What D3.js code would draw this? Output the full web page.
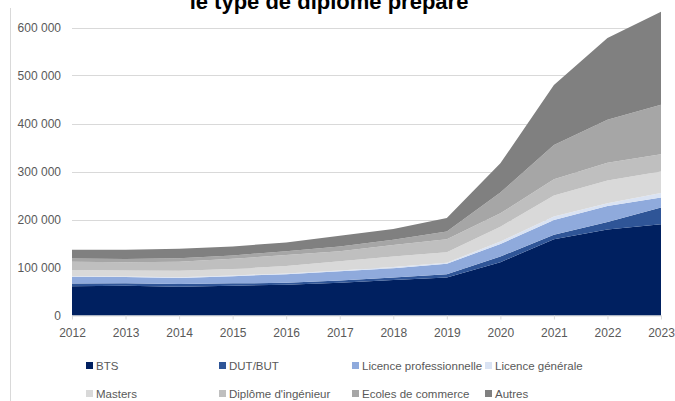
<!DOCTYPE html>
<html>
<head>
<meta charset="utf-8">
<script src="https://cdn.jsdelivr.net/npm/d3@7"></script>
<style>
  body { margin: 0; background: #fff; }
  text { font-family: "Liberation Sans", Arial, sans-serif; }
</style>
</head>
<body>
<script>
var width = 675, height = 401;

// data (effectifs d'apprentis)
var years = [2012, 2013, 2014, 2015, 2016, 2017, 2018, 2019, 2020, 2021, 2022, 2023];
var bts        = [61000, 62000, 60000, 62000, 64000, 68000, 74000, 79000, 111000, 159000, 179000, 190000];
var dut        = [5500, 5000, 5500, 5000, 4000, 5000, 5000, 7000, 12000, 9000, 16000, 35000];
var licPro     = [14000, 13000, 12500, 15000, 18000, 19000, 19500, 22000, 26000, 31000, 33000, 21000];
var licGen     = [1500, 1500, 1500, 1500, 1500, 2000, 2500, 2000, 5000, 7000, 6000, 9000];
var masters    = [13000, 12500, 13500, 13500, 15500, 19000, 22000, 22000, 31000, 44000, 47000, 45000];
var ingenieur  = [17000, 17000, 19000, 21000, 23000, 21000, 24000, 27000, 28000, 34000, 37000, 36000];
var commerce   = [7000, 6500, 7500, 7000, 8000, 10000, 11000, 16000, 43000, 71000, 90000, 103000];
var autres     = [18000, 19500, 19500, 19000, 18000, 22000, 22000, 28000, 61000, 125000, 170000, 194000];

var seriesNames = ["BTS", "DUT/BUT", "Licence professionnelle", "Licence générale",
                   "Masters", "Diplôme d'ingénieur", "Ecoles de commerce", "Autres"];
var seriesValues = [bts, dut, licPro, licGen, masters, ingenieur, commerce, autres];
var colors = ["#002060", "#2F5597", "#8FAADC", "#DAE3F3", "#D9D9D9", "#BFBFBF", "#A6A6A6", "#808080"];
var yTicks = [0, 100000, 200000, 300000, 400000, 500000, 600000];

var rows = years.map(function(y, i) {
  var r = { year: y };
  seriesNames.forEach(function(n, k) { r[n] = seriesValues[k][i]; });
  return r;
});

var svg = d3.select("body").append("svg")
    .attr("width", width)
    .attr("height", height);

var x = d3.scaleLinear().domain([2012, 2023]).range([72, 661]);
var y = d3.scaleLinear().domain([0, 600000]).range([315.5, 27.5]);

var fr = d3.formatLocale({ decimal: ",", thousands: " ", grouping: [3], currency: ["", " €"] });

// chart frame edge
svg.append("line")
    .attr("x1", 10.5).attr("x2", 10.5)
    .attr("y1", 8).attr("y2", height)
    .attr("stroke", "#D9D9D9");

// title (cut at the top, as in the source)
svg.append("text")
    .attr("x", 329).attr("y", 9)
    .attr("text-anchor", "middle")
    .style("font-weight", "bold")
    .style("font-size", "22px")
    .attr("fill", "#000")
    .text("le type de diplôme préparé");

// gridlines
svg.append("g").selectAll("line")
    .data(yTicks.slice(1))
  .enter().append("line")
    .attr("x1", x(2012)).attr("x2", x(2023))
    .attr("y1", function(d) { return Math.round(y(d)) + 0.5; })
    .attr("y2", function(d) { return Math.round(y(d)) + 0.5; })
    .attr("stroke", "#D9D9D9");

var stack = d3.stack().keys(seriesNames);
var layers = stack(rows);

var area = d3.area()
    .x(function(d) { return x(d.data.year); })
    .y0(function(d) { return y(d[0]); })
    .y1(function(d) { return y(d[1]); });

svg.append("g").selectAll("path")
    .data(layers)
  .enter().append("path")
    .attr("d", area)
    .attr("fill", function(d, i) { return colors[i]; });

// x axis
var xAxis = svg.append("g")
    .attr("transform", "translate(0,315.5)")
    .call(d3.axisBottom(x).tickValues(years).tickFormat(d3.format("d")).tickSize(4).tickSizeOuter(0).tickPadding(9));
xAxis.select(".domain").attr("stroke", "#D9D9D9");
xAxis.selectAll(".tick line").attr("stroke", "#D9D9D9");
xAxis.selectAll("text").attr("fill", "#595959").style("font-size", "12px")
    .style("font-family", "'Liberation Sans', Arial, sans-serif");

// y axis
var yAxis = svg.append("g")
    .attr("transform", "translate(72,0)")
    .call(d3.axisLeft(y).tickValues(yTicks).tickFormat(fr.format(",d")).tickSize(0).tickPadding(11));
yAxis.select(".domain").remove();
yAxis.selectAll("text").attr("fill", "#595959").style("font-size", "12px")
    .style("font-family", "'Liberation Sans', Arial, sans-serif");

// legend
var legend = svg.append("g").selectAll("g")
    .data(seriesNames)
  .enter().append("g")
    .attr("transform", function(d, i) {
      return "translate(" + (86 + (i % 4) * 133) + "," + (366 + Math.floor(i / 4) * 28) + ")";
    });
legend.append("rect")
    .attr("x", 0).attr("y", -4)
    .attr("width", 7).attr("height", 7)
    .attr("fill", function(d, i) { return colors[i]; });
legend.append("text")
    .attr("x", 10).attr("y", 4)
    .style("font-size", "11.5px")
    .attr("fill", "#595959")
    .text(function(d) { return d; });
</script>
</body>
</html>
